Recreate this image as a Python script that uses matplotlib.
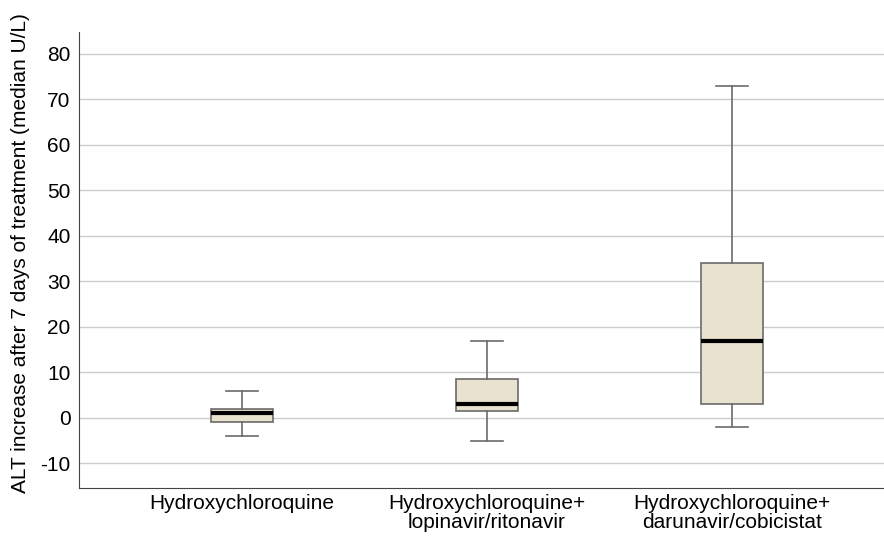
import matplotlib
matplotlib.use("Agg")
import matplotlib.pyplot as plt

plt.rcParams["font.family"] = ["Liberation Sans", "DejaVu Sans"]

groups = ["Hydroxychloroquine",
          "Hydroxychloroquine+\nlopinavir/ritonavir",
          "Hydroxychloroquine+\ndarunavir/cobicistat"]
whisker_low = [-4, -5, -2]
q1 = [-1, 1.5, 3]
median = [1, 3, 17]
q3 = [2, 8.5, 34]
whisker_high = [6, 17, 73]
yticks = [-10, 0, 10, 20, 30, 40, 50, 60, 70, 80]

stats = []
for i, name in enumerate(groups):
    stats.append({"label": name, "whislo": whisker_low[i], "q1": q1[i],
                  "med": median[i], "q3": q3[i], "whishi": whisker_high[i],
                  "fliers": []})

fig = plt.figure(figsize=(8.84, 5.37), dpi=100)
ax = fig.add_axes([79 / 884, 1 - 488 / 537, 1 - 79 / 884, (488 - 32) / 537])

edge = "#6b6b6b"
ax.bxp(stats, positions=[1, 2, 3], widths=0.25, patch_artist=True,
       showfliers=False,
       boxprops=dict(facecolor="#e8e2cf", edgecolor=edge, linewidth=1.2),
       whiskerprops=dict(color=edge, linewidth=1.2),
       capprops=dict(color=edge, linewidth=1.2),
       medianprops=dict(color="black", linewidth=3),
       capwidths=0.13, zorder=3)

ax.set_xlim(1 - 163 / 245, 3 + 152 / 245)
ax.set_ylim(-15.4, 84.8)
ax.set_yticks(yticks)
ax.set_yticklabels([str(v) for v in yticks], fontsize=15)
ax.yaxis.grid(True, color="#cccccc", linewidth=1)
ax.set_axisbelow(True)
ax.tick_params(axis="y", length=0, pad=6)
ax.tick_params(axis="x", length=0, pad=4)
ax.set_xticklabels(groups, fontsize=15, linespacing=1.0)

for s in ["top", "right"]:
    ax.spines[s].set_visible(False)
ax.spines["left"].set_color("#444444")
ax.spines["bottom"].set_color("#444444")

# y label placed by hand, it sits a bit above the axes centre
fig.text(21 / 884, 1 - 253 / 537,
         "ALT increase after 7 days of treatment (median U/L)",
         rotation=90, ha="center", va="center", fontsize=15)

fig.savefig("out.png", dpi=100)
